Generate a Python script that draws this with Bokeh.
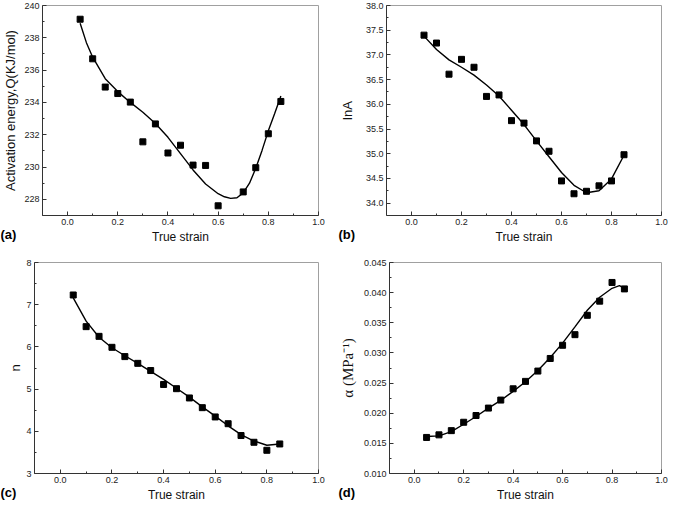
from bokeh.plotting import figure
from bokeh.models import FixedTicker, PrintfTickFormatter, Range1d, GridBox
from bokeh.layouts import column, row
from bokeh.core.properties import value
from bokeh.embed import file_html
from bokeh.resources import INLINE

# ---------------- data ----------------
strain = [0.05, 0.10, 0.15, 0.20, 0.25, 0.30, 0.35, 0.40, 0.45, 0.50,
          0.55, 0.60, 0.65, 0.70, 0.75, 0.80, 0.85]
strain_a = [0.05, 0.10, 0.15, 0.20, 0.25, 0.30, 0.35, 0.40, 0.45, 0.50,
            0.55, 0.60, 0.70, 0.75, 0.80, 0.85]

# (a) activation energy Q (kJ/mol)
Q = [239.15, 236.7, 234.95, 234.55, 234.02, 231.56, 232.67, 230.87, 231.35,
     230.12, 230.1, 227.6, 228.46, 229.96, 232.06, 234.06]
Q_fit_x = [0.05, 0.075, 0.10, 0.15, 0.20, 0.25, 0.30, 0.35, 0.40, 0.45, 0.50,
           0.55, 0.60, 0.625, 0.65, 0.675, 0.70, 0.725, 0.75, 0.775, 0.80,
           0.825, 0.85]
Q_fit_y = [238.9, 237.7, 236.8, 235.47, 234.67, 234.0, 233.39, 232.7, 231.84,
           230.83, 229.82, 228.95, 228.35, 228.16, 228.06, 228.1, 228.4, 229.0,
           229.92, 231.03, 232.24, 233.3, 234.4]

# (b) lnA
lnA = [37.40, 37.24, 36.61, 36.91, 36.75, 36.16, 36.19, 35.67, 35.62, 35.26,
       35.05, 34.45, 34.19, 34.24, 34.35, 34.45, 34.98]
lnA_fit_x = strain
lnA_fit_y = [37.38, 37.11, 36.90, 36.75, 36.59, 36.39, 36.17, 35.88, 35.59,
             35.26, 34.94, 34.62, 34.36, 34.21, 34.25, 34.49, 34.97]

# (c) n
n_val = [7.23, 6.48, 6.25, 5.99, 5.77, 5.61, 5.44, 5.11, 5.01, 4.79, 4.56,
         4.34, 4.18, 3.90, 3.74, 3.55, 3.70]
n_fit_x = strain
n_fit_y = [7.16, 6.61, 6.23, 5.98, 5.79, 5.61, 5.42, 5.23, 5.02, 4.81, 4.58,
           4.36, 4.13, 3.92, 3.77, 3.67, 3.70]

# (d) alpha (MPa^-1)
alpha = [0.01598, 0.01641, 0.01711, 0.01850, 0.01962, 0.02085, 0.02218,
         0.02405, 0.02528, 0.02699, 0.02908, 0.03127, 0.03303, 0.03624,
         0.03859, 0.04169, 0.04062]
alpha_fit_x = [0.05, 0.10, 0.15, 0.20, 0.25, 0.30, 0.35, 0.40, 0.45, 0.50,
               0.55, 0.60, 0.65, 0.70, 0.75, 0.80, 0.83, 0.85]
alpha_fit_y = [0.01614, 0.01624, 0.01694, 0.01817, 0.01945, 0.02084, 0.02212,
               0.02362, 0.02522, 0.02709, 0.02923, 0.03163, 0.03431, 0.03708,
               0.03923, 0.04072, 0.04115, 0.04072]

tags = ["(a)", "(b)", "(c)", "(d)"]
x_major = [0.0, 0.2, 0.4, 0.6, 0.8, 1.0]
x_minor = [0.1, 0.3, 0.5, 0.7, 0.9]
X_RANGE = (-0.1, 1.0)

FONT = "Liberation Sans"
W_L, W_R = 336, 333
H_T, H_B = 246, 258
BB = 30


def make_panel(width, height, lb, rb, tb, yr, yt, ymin, yfmt, ylabel,
               xs, ys, fx, fy, ylabel_font=FONT, ylabel_size="13px",
               ylabel_standoff=3):
    p = figure(width=width, height=height, output_backend="svg",
               toolbar_location=None, x_range=Range1d(*X_RANGE),
               y_range=Range1d(*yr), min_border_left=lb, min_border_right=rb,
               min_border_top=tb, min_border_bottom=BB)
    p.grid.visible = False
    p.outline_line_color = "#a0a0a0"
    p.outline_line_width = 1
    p.background_fill_color = "white"
    p.border_fill_color = "white"

    p.xaxis.ticker = FixedTicker(ticks=x_major, minor_ticks=x_minor)
    p.xaxis.formatter = PrintfTickFormatter(format="%.1f")
    p.yaxis.ticker = FixedTicker(ticks=yt, minor_ticks=ymin)
    p.yaxis.formatter = PrintfTickFormatter(format=yfmt)
    for ax in (p.xaxis, p.yaxis):
        ax.major_tick_in = 4
        ax.major_tick_out = 0
        ax.minor_tick_in = 2
        ax.minor_tick_out = 0
        ax.axis_line_color = "#333333"
        ax.major_tick_line_color = "#333333"
        ax.minor_tick_line_color = "#333333"
        ax.major_label_text_font = FONT
        ax.major_label_text_font_size = "9px"
        ax.major_label_text_color = "#222222"
        ax.major_label_standoff = 3
        ax.axis_label_text_font_style = "normal"
        ax.axis_label_text_color = "#111111"
    p.xaxis.axis_label = "True strain"
    p.xaxis.axis_label_text_font = FONT
    p.xaxis.axis_label_text_font_size = "12px"
    p.xaxis.axis_label_standoff = 2
    p.yaxis.axis_label = ylabel
    p.yaxis.axis_label_text_font = ylabel_font
    p.yaxis.axis_label_text_font_size = ylabel_size
    p.yaxis.axis_label_standoff = ylabel_standoff

    p.line(fx, fy, line_width=1.4, color="black")
    p.scatter(xs, ys, marker="square", size=6, color="black")
    return p


pa = make_panel(W_L, H_T, 34, 18, 5, (227.0, 240.0),
                [228, 230, 232, 234, 236, 238, 240],
                [227, 229, 231, 233, 235, 237, 239], "%d",
                "Activation energy,Q(KJ/mol)", strain_a, Q, Q_fit_x, Q_fit_y)
pb = make_panel(W_R, H_T, 40, 8, 5, (33.75, 38.0),
                [34.0, 34.5, 35.0, 35.5, 36.0, 36.5, 37.0, 37.5, 38.0],
                [34.25, 34.75, 35.25, 35.75, 36.25, 36.75, 37.25, 37.75],
                "%.1f", "lnA", strain, lnA, lnA_fit_x, lnA_fit_y,
                ylabel_standoff=8)
pc = make_panel(W_L, H_B, 34, 18, 16, (3.0, 8.0),
                [3, 4, 5, 6, 7, 8], [3.5, 4.5, 5.5, 6.5, 7.5], "%d",
                "n", strain, n_val, n_fit_x, n_fit_y, ylabel_standoff=0)
pd_ = make_panel(W_R, H_B, 43, 8, 16, (0.010, 0.045),
                 [0.010, 0.015, 0.020, 0.025, 0.030, 0.035, 0.040, 0.045],
                 [0.0125, 0.0175, 0.0225, 0.0275, 0.0325, 0.0375, 0.0425],
                 "%.3f", "\u03b1 (MPa\u207b\u00b9)", strain, alpha,
                 alpha_fit_x, alpha_fit_y, ylabel_font="Liberation Serif",
                 ylabel_size="15px", ylabel_standoff=5)

panels = column(row(pa, pb), row(pc, pd_))

# transparent overlay carrying the panel tags (a)-(d)
TW, TH = W_L + W_R, H_T + H_B
ov = figure(width=TW, height=TH, output_backend="svg", toolbar_location=None,
            x_range=Range1d(0, TW), y_range=Range1d(TH, 0),
            x_axis_type=None, y_axis_type=None, min_border=0,
            min_border_left=0, min_border_right=0, min_border_top=0,
            min_border_bottom=0)
ov.grid.visible = False
ov.outline_line_color = None
ov.background_fill_alpha = 0
ov.border_fill_alpha = 0
tag_x = [0, W_L + 2, 0, W_L + 2]
tag_y = [H_T - 12, H_T - 12, TH - 12, TH - 12]
ov.text(x=tag_x, y=tag_y, text=tags, text_font=value(FONT),
        text_font_style="bold", text_font_size="13px",
        text_baseline="middle", text_align="left", text_color="black")

layout = GridBox(children=[(panels, 0, 0), (ov, 0, 0)])
open("out.html", "w").write(file_html(layout, INLINE))
